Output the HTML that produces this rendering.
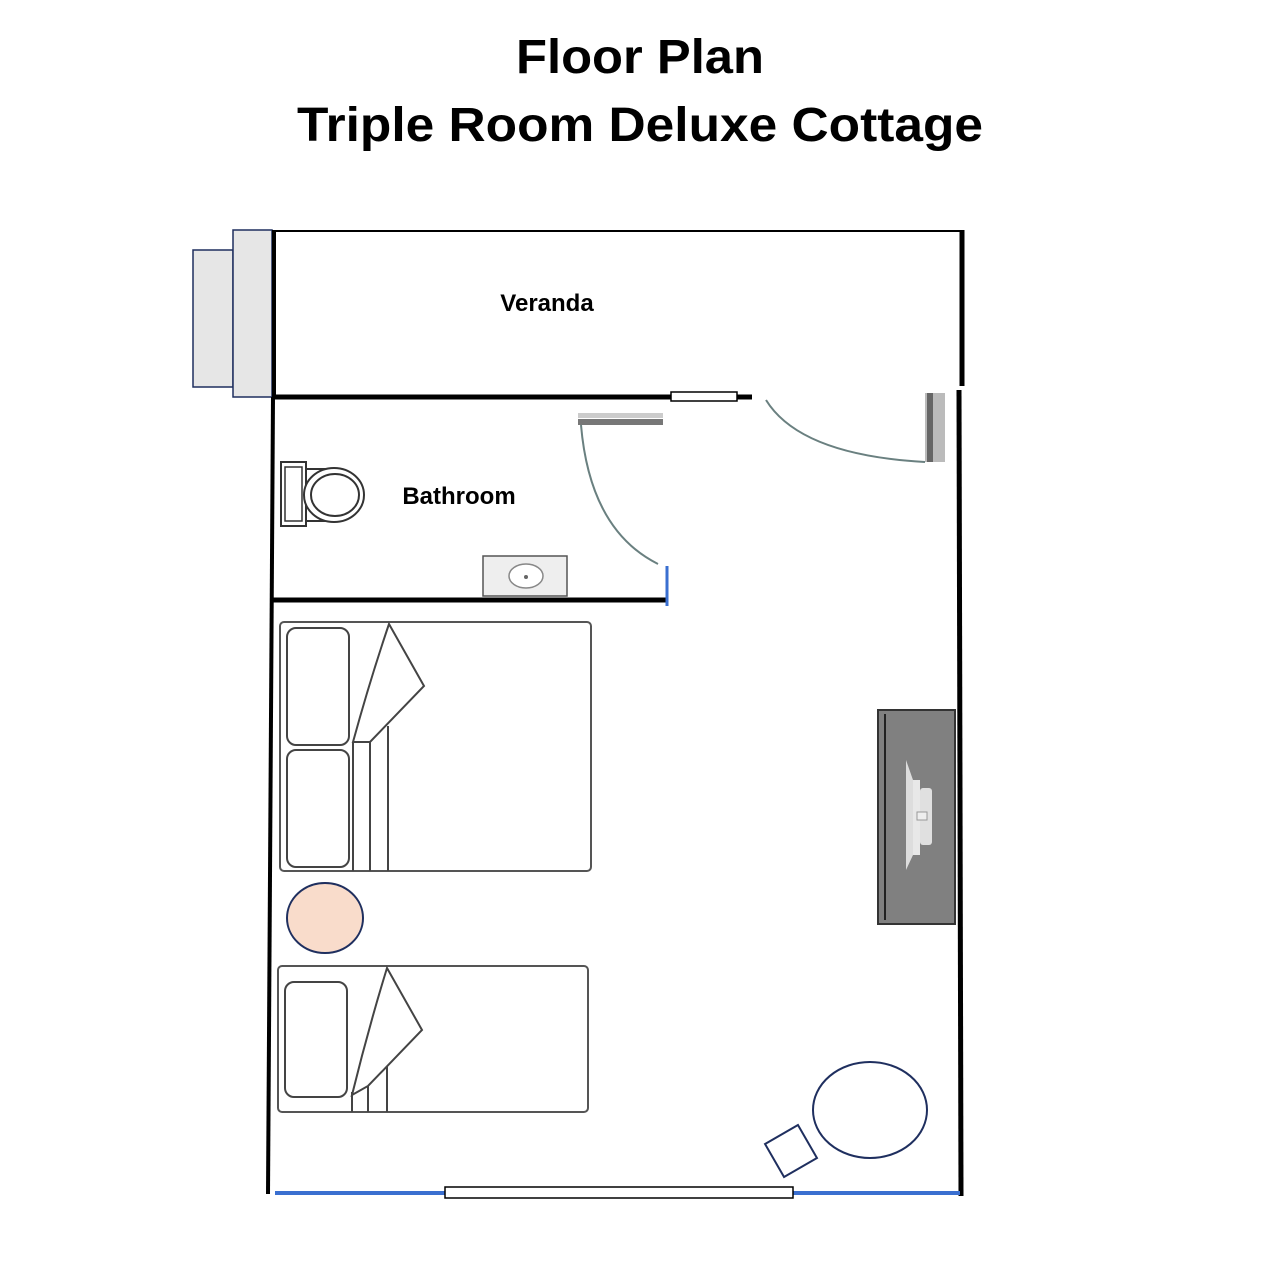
<!DOCTYPE html>
<html><head><meta charset="utf-8"><style>html,body{margin:0;padding:0;background:#fff}svg{display:block}</style></head>
<body>
<svg width="1280" height="1280" viewBox="0 0 1280 1280" xmlns="http://www.w3.org/2000/svg" font-family="Liberation Sans, sans-serif">
<rect width="1280" height="1280" fill="#fff"/>
<text x="640" y="73" text-anchor="middle" font-size="48" font-weight="bold" textLength="248" lengthAdjust="spacingAndGlyphs">Floor Plan</text>
<text x="640" y="141" text-anchor="middle" font-size="48" font-weight="bold" textLength="686" lengthAdjust="spacingAndGlyphs">Triple Room Deluxe Cottage</text>

<!-- steps -->
<rect x="193" y="250" width="40" height="137" fill="#e6e6e6" stroke="#1f2f5f" stroke-width="1.5"/>
<rect x="233" y="230" width="39" height="167" fill="#e6e6e6" stroke="#1f2f5f" stroke-width="1.5"/>

<!-- walls -->
<line x1="275" y1="231" x2="963" y2="231" stroke="#000" stroke-width="2"/>
<line x1="274" y1="230" x2="274" y2="398" stroke="#000" stroke-width="4"/>
<line x1="273" y1="397" x2="268" y2="1194" stroke="#000" stroke-width="4"/>
<line x1="272" y1="397" x2="671" y2="397" stroke="#000" stroke-width="5"/>
<rect x="671" y="392" width="66" height="9" fill="#fff" stroke="#000" stroke-width="1.5"/>
<line x1="737" y1="397" x2="752" y2="397" stroke="#000" stroke-width="5"/>
<line x1="962" y1="230" x2="962" y2="386" stroke="#000" stroke-width="5"/>
<line x1="959" y1="390" x2="961" y2="1196" stroke="#000" stroke-width="5"/>
<line x1="272" y1="600" x2="667" y2="600" stroke="#000" stroke-width="5"/>
<line x1="667" y1="566" x2="667" y2="606" stroke="#3a6fd0" stroke-width="3"/>
<line x1="275" y1="1193" x2="445" y2="1193" stroke="#3a6fd0" stroke-width="4"/>
<line x1="793" y1="1193" x2="960" y2="1193" stroke="#3a6fd0" stroke-width="4"/>
<rect x="445" y="1187" width="348" height="11" fill="#fff" stroke="#000" stroke-width="1.5"/>

<!-- labels -->
<text x="547" y="311" text-anchor="middle" font-size="24" font-weight="bold">Veranda</text>
<text x="459" y="504" text-anchor="middle" font-size="24" font-weight="bold">Bathroom</text>

<!-- toilet -->
<rect x="281" y="462" width="25" height="64" fill="#fff" stroke="#333" stroke-width="2"/>
<rect x="285" y="467" width="17" height="54" fill="#fff" stroke="#333" stroke-width="1.5"/>
<path d="M306 469 L330 469" stroke="#333" stroke-width="2"/>
<path d="M306 521 L330 521" stroke="#333" stroke-width="2"/>
<ellipse cx="334" cy="495" rx="30" ry="27" fill="#fff" stroke="#333" stroke-width="2"/>
<ellipse cx="335" cy="495" rx="24" ry="21" fill="#fff" stroke="#333" stroke-width="2"/>

<!-- sink -->
<rect x="483" y="556" width="84" height="40" fill="#eee" stroke="#555" stroke-width="1.5"/>
<ellipse cx="526" cy="576" rx="17" ry="12" fill="#fff" stroke="#888" stroke-width="1.5"/>
<circle cx="526" cy="577" r="2" fill="#666"/>

<!-- bathroom door -->
<rect x="578" y="413" width="85" height="5" fill="#ccc"/>
<rect x="578" y="419" width="85" height="6" fill="#777"/>
<path d="M581 425 Q590 530 658 564" fill="none" stroke="#6a8080" stroke-width="2"/>
<!-- entry door -->
<rect x="925" y="393" width="20" height="69" fill="#bbb"/>
<rect x="927" y="393" width="6" height="69" fill="#666"/>
<path d="M766 400 Q800 455 925 462" fill="none" stroke="#6a8080" stroke-width="2"/>

<!-- bed 1 -->
<rect x="280" y="622" width="311" height="249" rx="4" fill="#fff" stroke="#555" stroke-width="2"/>
<rect x="287" y="628" width="62" height="117" rx="9" fill="#fff" stroke="#444" stroke-width="2"/>
<rect x="287" y="750" width="62" height="117" rx="9" fill="#fff" stroke="#444" stroke-width="2"/>
<line x1="353" y1="742" x2="353" y2="871" stroke="#444" stroke-width="2"/>
<line x1="370" y1="742" x2="370" y2="871" stroke="#444" stroke-width="2"/>
<line x1="388" y1="726" x2="388" y2="871" stroke="#444" stroke-width="2"/>
<path d="M389 624 L424 686 L370 742 L353 742 Q370 680 389 624 Z" fill="#fff" stroke="#444" stroke-width="2"/>

<!-- bed 2 -->
<rect x="278" y="966" width="310" height="146" rx="4" fill="#fff" stroke="#555" stroke-width="2"/>
<rect x="285" y="982" width="62" height="115" rx="9" fill="#fff" stroke="#444" stroke-width="2"/>
<line x1="352" y1="1092" x2="352" y2="1112" stroke="#444" stroke-width="2"/>
<line x1="368" y1="1080" x2="368" y2="1112" stroke="#444" stroke-width="2"/>
<line x1="387" y1="1064" x2="387" y2="1112" stroke="#444" stroke-width="2"/>
<path d="M387 968 L422 1030 L368 1086 L352 1095 Q368 1030 387 968 Z" fill="#fff" stroke="#444" stroke-width="2"/>

<!-- nightstand -->
<ellipse cx="325" cy="918" rx="38" ry="35" fill="#f9dccb" stroke="#1f2f5f" stroke-width="2"/>

<!-- tv unit -->
<rect x="878" y="710" width="77" height="214" fill="#808080" stroke="#333" stroke-width="2"/>
<line x1="885" y1="714" x2="885" y2="920" stroke="#222" stroke-width="2"/>
<path d="M906 760 L913 780 L913 855 L906 870 Z" fill="#ddd"/>
<rect x="913" y="780" width="7" height="75" fill="#e8e8e8"/>
<rect x="920" y="788" width="12" height="57" rx="3" fill="#e0e0e0"/>
<rect x="917" y="812" width="10" height="8" fill="#eee" stroke="#999"/>

<!-- table & chair -->
<ellipse cx="870" cy="1110" rx="57" ry="48" fill="#fff" stroke="#1f2f5f" stroke-width="2"/>
<rect x="772" y="1132" width="38" height="38" fill="#fff" stroke="#1f2f5f" stroke-width="2" transform="rotate(-30 791 1151)"/>
</svg>
</body></html>
